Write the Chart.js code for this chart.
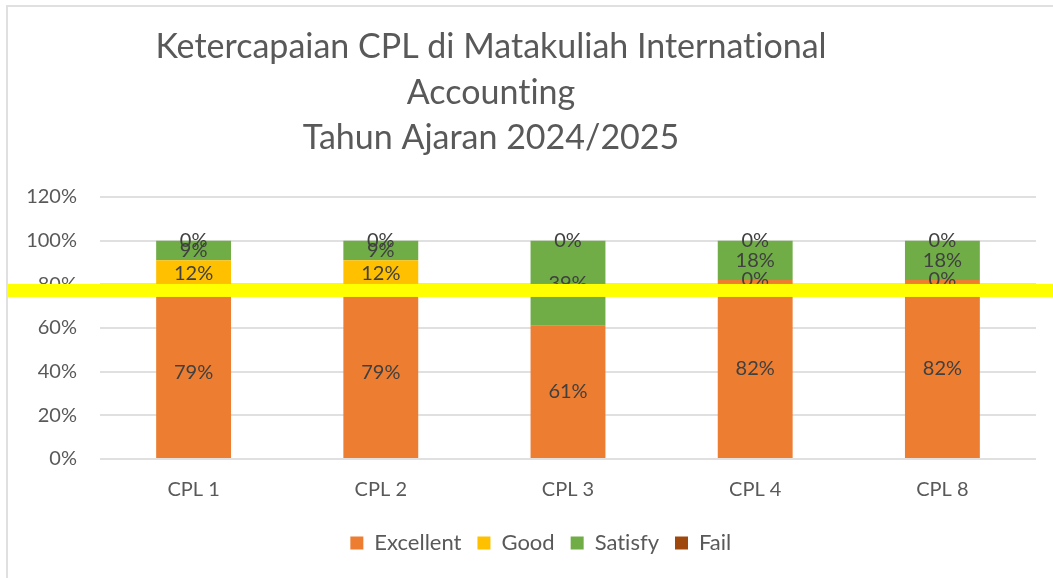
<!DOCTYPE html>
<html><head><meta charset="utf-8">
<script src="https://cdn.jsdelivr.net/npm/chart.js@4.4.1/dist/chart.umd.min.js"></script>
<style>
html,body{margin:0;padding:0;background:#fff;overflow:hidden;}
#wrap{position:relative;width:1053px;height:578px;}
#frame{position:absolute;left:6px;top:5px;width:1100px;height:600px;border-top:2px solid #e0e0e0;border-left:2px solid #e0e0e0;}
canvas{position:absolute;left:0;top:0;}
</style></head><body>
<div id="wrap"><div id="frame"></div><canvas id="c" width="1053" height="578"></canvas></div>
<script>
const categories = ['CPL 1', 'CPL 2', 'CPL 3', 'CPL 4', 'CPL 8'];
const excellent = [0.79, 0.79, 0.61, 0.82, 0.82];
const good = [0.12, 0.12, null, 0, 0];
const satisfy = [0.09, 0.09, 0.39, 0.18, 0.18];
const fail = [0, 0, 0, 0, 0];
const seriesNames = ['Excellent', 'Good', 'Satisfy', 'Fail'];
const seriesColors = ['#ED7D31', '#FFC000', '#70AD47', '#9E480E'];
const titleLines = ['Ketercapaian CPL di Matakuliah International', 'Accounting', 'Tahun Ajaran 2024/2025'];
const yTickMax = 1.2;
const yTickStep = 0.2;
const highlightValue = 0.772;

const FONT = 'Lato';
const TEXT = '#595959';

const noLigatures = {
  id: 'noLig',
  beforeDraw(chart) { try { chart.ctx.textRendering = 'optimizeSpeed'; } catch (e) {} }
};

const titlePlugin = {
  id: 'multiTitle',
  afterDraw(chart) {
    const ctx = chart.ctx;
    ctx.save();
    try { ctx.textRendering = 'optimizeSpeed'; } catch (e) {}
    ctx.font = '34px ' + FONT;
    ctx.fillStyle = TEXT;
    ctx.textAlign = 'center';
    ctx.textBaseline = 'middle';
    const ys = [47, 93, 138];
    titleLines.forEach((t, i) => ctx.fillText(t, 491, ys[i]));
    ctx.restore();
  }
};

const labelPlugin = {
  id: 'segLabels',
  afterDatasetsDraw(chart) {
    const ctx = chart.ctx;
    ctx.save();
    ctx.font = '20px ' + FONT;
    ctx.fillStyle = '#404040';
    ctx.textAlign = 'center';
    ctx.textBaseline = 'middle';
    chart.data.datasets.forEach((ds, di) => {
      const meta = chart.getDatasetMeta(di);
      meta.data.forEach((el, i) => {
        const v = ds.data[i];
        if (v === null || v === undefined) return;
        ctx.fillText(Math.round(v * 100) + '%', el.x, (el.y + el.base) / 2);
      });
    });
    ctx.restore();
  }
};

const highlightPlugin = {
  id: 'highlight',
  afterDraw(chart) {
    const ctx = chart.ctx;
    const y = chart.scales.y.getPixelForValue(highlightValue);
    ctx.save();
    ctx.fillStyle = '#FFFF00';
    ctx.fillRect(7, y - 6.5, chart.width - 7, 13);
    ctx.restore();
  }
};

const legendShift = {
  id: 'legendShift',
  afterLayout(chart) {
    const lg = chart.legend;
    if (lg) { lg.left += 20; lg.right += 20; }
  }
};

const seriesData = [excellent, good, satisfy, fail];

new Chart(document.getElementById('c'), {
  type: 'bar',
  data: {
    labels: categories,
    datasets: seriesNames.map((n, i) => ({
      label: n,
      data: seriesData[i],
      backgroundColor: seriesColors[i],
      borderWidth: 0,
      categoryPercentage: 1,
      barPercentage: 0.4
    }))
  },
  options: {
    responsive: false,
    animation: false,
    devicePixelRatio: 1,
    layout: { padding: { left: 6, right: 17, top: 197, bottom: 14 } },
    plugins: {
      title: { display: false },
      tooltip: { enabled: false },
      legend: {
        display: true,
        position: 'bottom',
        labels: {
          font: { family: FONT, size: 22 },
          color: TEXT,
          boxWidth: 13,
          boxHeight: 13,
          padding: 16
        }
      }
    },
    scales: {
      x: {
        stacked: true,
        grid: { display: false, drawTicks: false },
        border: { display: false },
        ticks: { font: { family: FONT, size: 20 }, color: TEXT, padding: 19 },
        afterFit(s) { s.height = 57; }
      },
      y: {
        stacked: true,
        min: 0,
        max: yTickMax,
        grid: { color: '#e0e0e0', lineWidth: 2, drawTicks: false },
        border: { display: false },
        ticks: {
          stepSize: yTickStep,
          font: { family: FONT, size: 20 },
          color: TEXT,
          padding: 23,
          callback: v => Math.round(v * 100) + '%'
        },
        afterFit(s) { s.width = 94; }
      }
    }
  },
  plugins: [noLigatures, titlePlugin, labelPlugin, highlightPlugin, legendShift]
});
</script>
</body></html>
